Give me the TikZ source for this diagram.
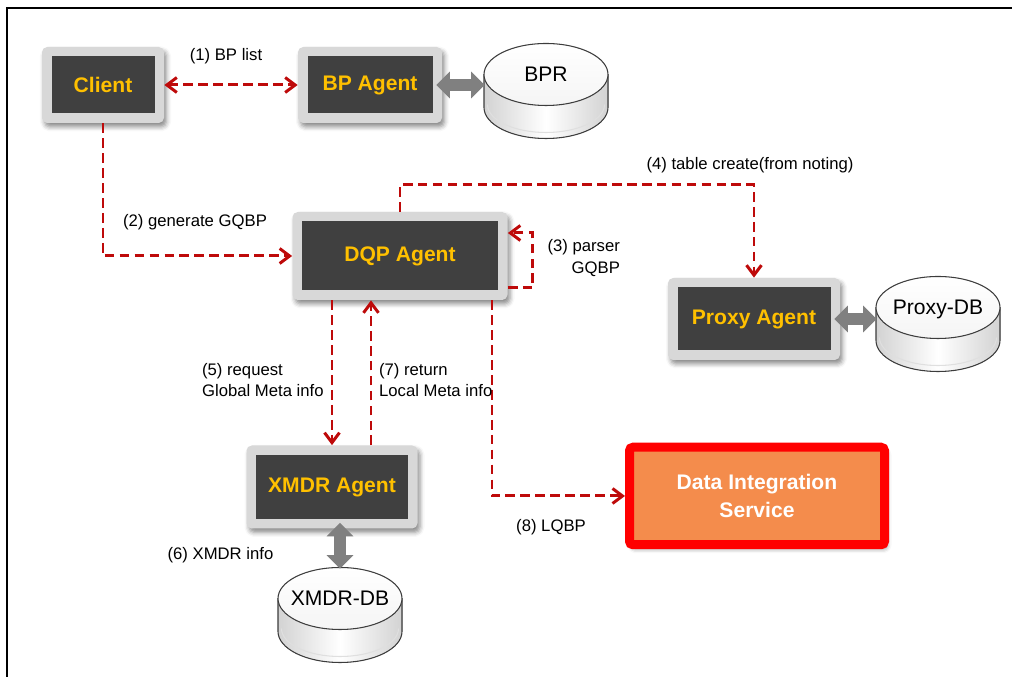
\documentclass[tikz,border=0pt]{standalone}
\usepackage{fontspec}
\setmainfont{Liberation Sans}
\usetikzlibrary{arrows.meta, shadows.blur}

\definecolor{flowred}{RGB}{190,10,10}
\definecolor{agentdark}{RGB}{64,64,64}
\definecolor{agentgold}{RGB}{255,192,0}
\definecolor{framegray}{RGB}{216,216,216}
\definecolor{arrowgray}{RGB}{128,128,128}
\definecolor{dbline}{RGB}{60,60,60}
\definecolor{disorange}{RGB}{244,140,76}
\definecolor{disred}{RGB}{255,0,0}

\tikzset{
  agent/.style={rectangle, fill=framegray, rounded corners=3pt, text=agentgold,
    font=\bfseries\fontsize{12}{14}\selectfont,
    blur shadow={shadow xshift=0.5mm, shadow yshift=-0.8mm, shadow blur radius=0.9mm, shadow opacity=45},
    path picture={\fill[agentdark, sharp corners] ([shift={(0.19,0.19)}]path picture bounding box.south west) rectangle ([shift={(-0.19,-0.19)}]path picture bounding box.north east);}},
  database/.style={rectangle, minimum width=2.6cm, minimum height=2.0cm, inner sep=0pt,
    text height=0.35cm, text depth=0.71cm, font=\fontsize{12}{14}\selectfont,
    path picture={
      \coordinate (dbc) at (path picture bounding box.center);
      \fill[left color=gray!35, right color=gray!35, middle color=white] ([shift={(-1.24,0.33)}]dbc) -- ([shift={(-1.24,-0.33)}]dbc) arc[start angle=180, end angle=360, x radius=1.24, y radius=0.62] -- ([shift={(1.24,0.33)}]dbc) -- cycle;
      \draw[gray!25, line width=0.6pt] ([shift={(-1.17,-0.27)}]dbc) arc[start angle=180, end angle=360, x radius=1.17, y radius=0.56];
      \draw[dbline, line width=0.6pt] ([shift={(-1.24,0.33)}]dbc) -- ([shift={(-1.24,-0.33)}]dbc) arc[start angle=180, end angle=360, x radius=1.24, y radius=0.62] -- ([shift={(1.24,0.33)}]dbc);
      \draw[dbline, line width=0.6pt, top color=white, bottom color=gray!8] ([yshift=0.33cm]dbc) ellipse[x radius=1.24, y radius=0.62];
    }},
  service/.style={rectangle, draw=disred, line width=0.18cm, fill=disorange, rounded corners=2pt,
    text=white, align=center, font=\bfseries\fontsize{12}{15.4}\selectfont,
    minimum width=5.1cm, minimum height=1.95cm,
    blur shadow={shadow xshift=0.5mm, shadow yshift=-0.8mm, shadow blur radius=0.9mm, shadow opacity=45}},
  flow/.style={draw=flowred, line width=1.7pt, dash pattern=on 5.5pt off 3pt,
    >={Straight Barb[length=2mm, width=3mm]}},
  dbarrow/.style={draw=arrowgray, line width=0.24cm, shorten <=-0.12cm, shorten >=-0.08cm,
    {Triangle[length=0.27cm, width=0.52cm]}-{Triangle[length=0.27cm, width=0.52cm]}},
  lbl/.style={font=\fontsize{9.5}{12}\selectfont, inner sep=1pt}
}

\begin{document}
\begin{tikzpicture}
    \useasboundingbox (0,0) rectangle (20.28,13.54);
    % Frame
    \draw[line width=1.2pt] (0.14,0) -- (0.14,13.38) -- (20.24,13.38);

    % Agents
    \node[agent, minimum width=2.44cm, minimum height=1.52cm] (client) at (2.06,11.84) {Client};
    \node[agent, minimum width=2.88cm, minimum height=1.52cm] (bpagent) at (7.40,11.84) {BP Agent};
    \node[agent, minimum width=4.30cm, minimum height=1.76cm] (dqp) at (8.00,8.42) {DQP Agent};
    \node[agent, minimum width=3.44cm, minimum height=1.64cm] (proxy) at (15.08,7.16) {Proxy Agent};
    \node[agent, minimum width=3.42cm, minimum height=1.66cm] (xmdr) at (6.64,3.80) {XMDR Agent};

    % Service
    \node[service] (dis) at (15.14,3.62) {Data Integration\\Service};

    % Databases
    \node[database] (bpr) at (10.92,11.72) {BPR};
    \node[database] (proxydb) at (18.76,7.06) {Proxy-DB};
    \node[database] (xmdrdb) at (6.80,1.24) {XMDR-DB};

    % Database links
    \draw[dbarrow] (bpagent.east) -- (bpagent.east -| bpr.west);
    \draw[dbarrow] (proxy.east) -- (proxy.east -| proxydb.west);
    \draw[dbarrow] (xmdrdb.north |- xmdr.south) -- (xmdrdb.north);

    % Message flows
    \draw[flow, <->] (client) -- (bpagent);
    \draw[flow, ->] (client.south) |- (dqp.west);
    \draw[flow, ->] ([yshift=-0.64cm]dqp.east) -- ++(0.5,0) |- ([yshift=0.46cm]dqp.east);
    \draw[flow, ->] (dqp.north) -- ++(0,0.54) -| (proxy.north);
    \draw[flow, ->] (xmdr.north |- dqp.south) -- (xmdr.north);
    \coordinate (ret) at ([xshift=0.78cm]xmdr.north);
    \draw[flow, ->] (ret) -- (ret |- dqp.south);
    \draw[flow, ->] ([xshift=1.84cm]dqp.south) |- (dis.west);

    % Labels
    \node[lbl] (l1) at (4.52,12.42) {(1) BP list};
    \node[lbl] (l2) at (3.90,9.10) {(2) generate GQBP};
    \node[lbl, align=right, anchor=east] (l3) at (12.44,8.38) {(3) parser\\GQBP};
    \node[lbl] (l4) at (15.00,10.24) {(4) table create(from noting)};
    \node[lbl, align=left, anchor=west] (l5) at (4.00,5.94) {(5) request\\Global Meta info};
    \node[lbl, align=left, anchor=west] (l7) at (7.54,5.94) {(7) return\\Local Meta info};
    \node[lbl] (l6) at (4.41,2.44) {(6) XMDR info};
    \node[lbl] (l8) at (11.02,3.00) {(8) LQBP};
\end{tikzpicture}
\end{document}
